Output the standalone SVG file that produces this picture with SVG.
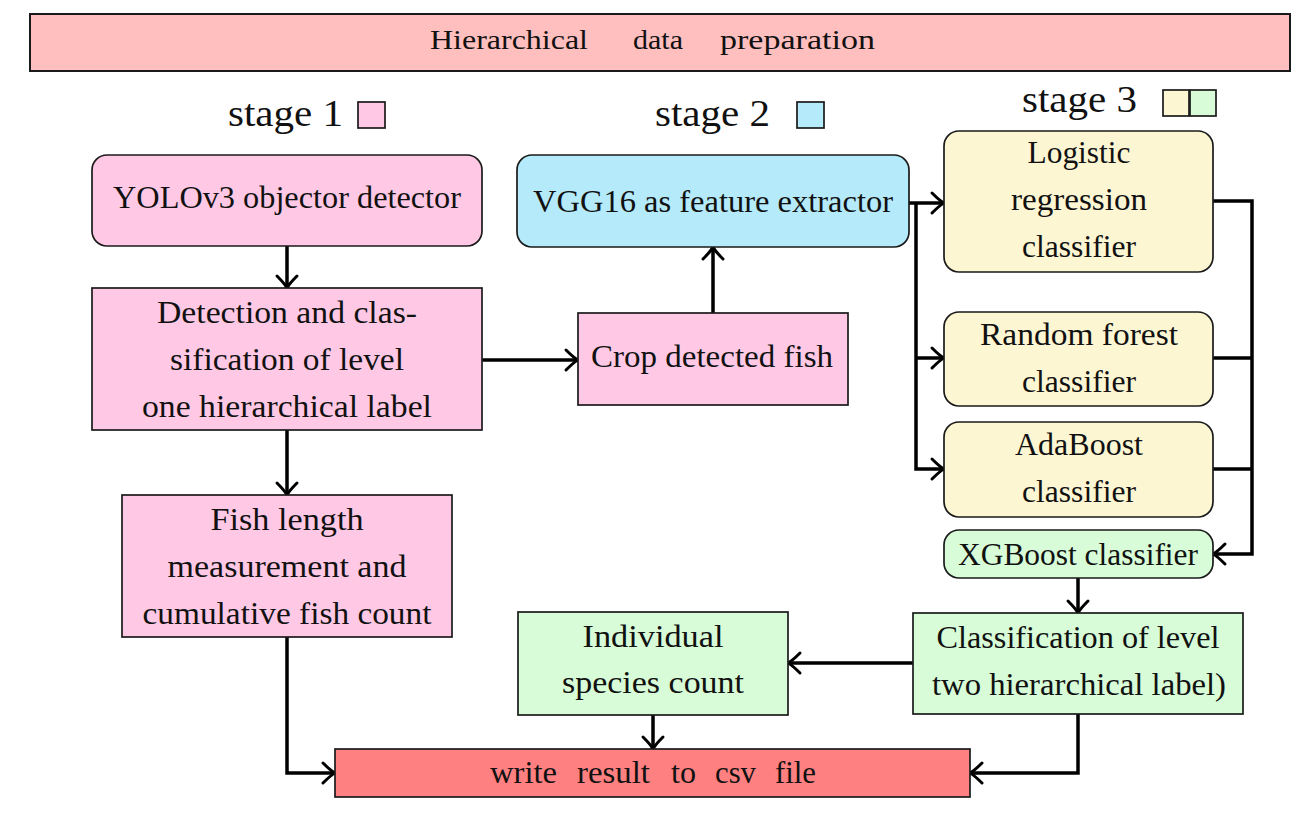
<svg xmlns="http://www.w3.org/2000/svg" width="1313" height="816" viewBox="0 0 1313 816">
<style>
text{font-family:"Liberation Serif","Times New Roman",serif;fill:#111;text-anchor:middle}
.t{font-size:31px}
.st{font-size:37px;text-anchor:start}
.bn{font-size:27px;text-anchor:start}
.ws{font-size:31px;text-anchor:start}
.box{stroke:#1a1a1a;stroke-width:1.7}
.pink{fill:#ffc9e5}
.blue{fill:#b4eaf9}
.yel{fill:#fdf6d3}
.grn{fill:#d7fcd7}
.red{fill:#ff8080}
.ban{fill:#ffbfbf;stroke:#1a1a1a;stroke-width:2}
.c{fill:none;stroke:#000;stroke-width:3.5}
.a{marker-end:url(#ah)}
</style>
<defs>
<marker id="ah" markerUnits="userSpaceOnUse" markerWidth="24" markerHeight="24" viewBox="-14 -12 16 24" refX="0" refY="0" orient="auto" overflow="visible">
<path d="M-12,-10 Q-4,-2 0,0 Q-4,2 -12,10" fill="none" stroke="#000" stroke-width="3" stroke-linecap="round"/>
</marker>
</defs>

<g id="banner">
<rect class="ban" x="30" y="14" width="1260" height="57"/>
<text class="bn" x="430" y="49" textLength="158" lengthAdjust="spacingAndGlyphs">Hierarchical</text>
<text class="bn" x="633" y="49" textLength="50" lengthAdjust="spacingAndGlyphs">data</text>
<text class="bn" x="720" y="49" textLength="155" lengthAdjust="spacingAndGlyphs">preparation</text>
</g>

<g id="stage1">
<text class="st" x="228" y="126" textLength="115" lengthAdjust="spacingAndGlyphs">stage 1</text>
<rect class="box pink" x="358" y="102" width="27" height="26"/>
</g>
<g id="stage2">
<text class="st" x="655" y="126" textLength="115" lengthAdjust="spacingAndGlyphs">stage 2</text>
<rect class="box blue" x="797" y="102" width="27" height="26"/>
</g>
<g id="stage3">
<text class="st" x="1022" y="112" textLength="115" lengthAdjust="spacingAndGlyphs">stage 3</text>
<rect class="box yel" x="1163" y="90" width="26" height="26"/>
<rect class="box grn" x="1190" y="90" width="26" height="26"/>
</g>

<g id="connectors">
<path class="c a" d="M287,246 V288"/>
<path class="c a" d="M482,360 H578"/>
<path class="c a" d="M713,313 V247"/>
<path class="c a" d="M909,203 H944"/>
<path class="c a" d="M916,203 V469 H944"/>
<path class="c a" d="M916,358 H944"/>
<path class="c a" d="M1213,201 H1252 V554 H1213"/>
<path class="c" d="M1213,358 H1252"/>
<path class="c" d="M1213,469 H1252"/>
<path class="c a" d="M1078,578 V613"/>
<path class="c a" d="M913,663 H788"/>
<path class="c a" d="M1078,714 V773 H970"/>
<path class="c a" d="M653,715 V749"/>
<path class="c a" d="M287,430 V495"/>
<path class="c a" d="M287,637 V773 H335"/>
</g>

<g id="yolo">
<rect class="box pink" x="92" y="155" width="390" height="91" rx="15"/>
<text class="t" x="287" y="208" textLength="348" lengthAdjust="spacingAndGlyphs">YOLOv3 objector detector</text>
</g>
<g id="detection">
<rect class="box pink" x="92" y="288" width="390" height="142"/>
<text class="t" x="287" y="323" textLength="260" lengthAdjust="spacingAndGlyphs">Detection and clas-</text>
<text class="t" x="287" y="370" textLength="234" lengthAdjust="spacingAndGlyphs">sification of level</text>
<text class="t" x="287" y="417" textLength="290" lengthAdjust="spacingAndGlyphs">one hierarchical label</text>
</g>
<g id="crop">
<rect class="box pink" x="578" y="313" width="270" height="92"/>
<text class="t" x="712" y="367" textLength="242" lengthAdjust="spacingAndGlyphs">Crop detected fish</text>
</g>
<g id="vgg">
<rect class="box blue" x="517" y="155" width="392" height="92" rx="15"/>
<text class="t" x="713" y="212" textLength="360" lengthAdjust="spacingAndGlyphs">VGG16 as feature extractor</text>
</g>
<g id="logistic">
<rect class="box yel" x="944" y="131" width="269" height="141" rx="15"/>
<text class="t" x="1079" y="163" textLength="103" lengthAdjust="spacingAndGlyphs">Logistic</text>
<text class="t" x="1079" y="210" textLength="136" lengthAdjust="spacingAndGlyphs">regression</text>
<text class="t" x="1079" y="257" textLength="114" lengthAdjust="spacingAndGlyphs">classifier</text>
</g>
<g id="randomforest">
<rect class="box yel" x="944" y="312" width="269" height="94" rx="15"/>
<text class="t" x="1079" y="345" textLength="198" lengthAdjust="spacingAndGlyphs">Random forest</text>
<text class="t" x="1079" y="392" textLength="114" lengthAdjust="spacingAndGlyphs">classifier</text>
</g>
<g id="adaboost">
<rect class="box yel" x="944" y="422" width="269" height="95" rx="15"/>
<text class="t" x="1079" y="455" textLength="128" lengthAdjust="spacingAndGlyphs">AdaBoost</text>
<text class="t" x="1079" y="502" textLength="114" lengthAdjust="spacingAndGlyphs">classifier</text>
</g>
<g id="xgboost">
<rect class="box grn" x="944" y="530" width="269" height="48" rx="15"/>
<text class="t" x="1078" y="565" textLength="240" lengthAdjust="spacingAndGlyphs">XGBoost classifier</text>
</g>
<g id="classification">
<rect class="box grn" x="913" y="613" width="330" height="101"/>
<text class="t" x="1078" y="648" textLength="283" lengthAdjust="spacingAndGlyphs">Classification of level</text>
<text class="t" x="1079" y="695" textLength="294" lengthAdjust="spacingAndGlyphs">two hierarchical label)</text>
</g>
<g id="individual">
<rect class="box grn" x="518" y="612" width="270" height="103"/>
<text class="t" x="653" y="647" textLength="141" lengthAdjust="spacingAndGlyphs">Individual</text>
<text class="t" x="653" y="693" textLength="182" lengthAdjust="spacingAndGlyphs">species count</text>
</g>
<g id="fishlength">
<rect class="box pink" x="122" y="495" width="330" height="142"/>
<text class="t" x="287" y="530" textLength="153" lengthAdjust="spacingAndGlyphs">Fish length</text>
<text class="t" x="287" y="577" textLength="239" lengthAdjust="spacingAndGlyphs">measurement and</text>
<text class="t" x="287" y="624" textLength="289" lengthAdjust="spacingAndGlyphs">cumulative fish count</text>
</g>
<g id="write">
<rect class="box red" x="335" y="749" width="635" height="48"/>
<text class="ws" x="490" y="783" textLength="67" lengthAdjust="spacingAndGlyphs">write</text>
<text class="ws" x="577" y="783" textLength="73" lengthAdjust="spacingAndGlyphs">result</text>
<text class="ws" x="671" y="783" textLength="25" lengthAdjust="spacingAndGlyphs">to</text>
<text class="ws" x="715" y="783" textLength="41" lengthAdjust="spacingAndGlyphs">csv</text>
<text class="ws" x="775" y="783" textLength="41" lengthAdjust="spacingAndGlyphs">file</text>
</g>
</svg>
